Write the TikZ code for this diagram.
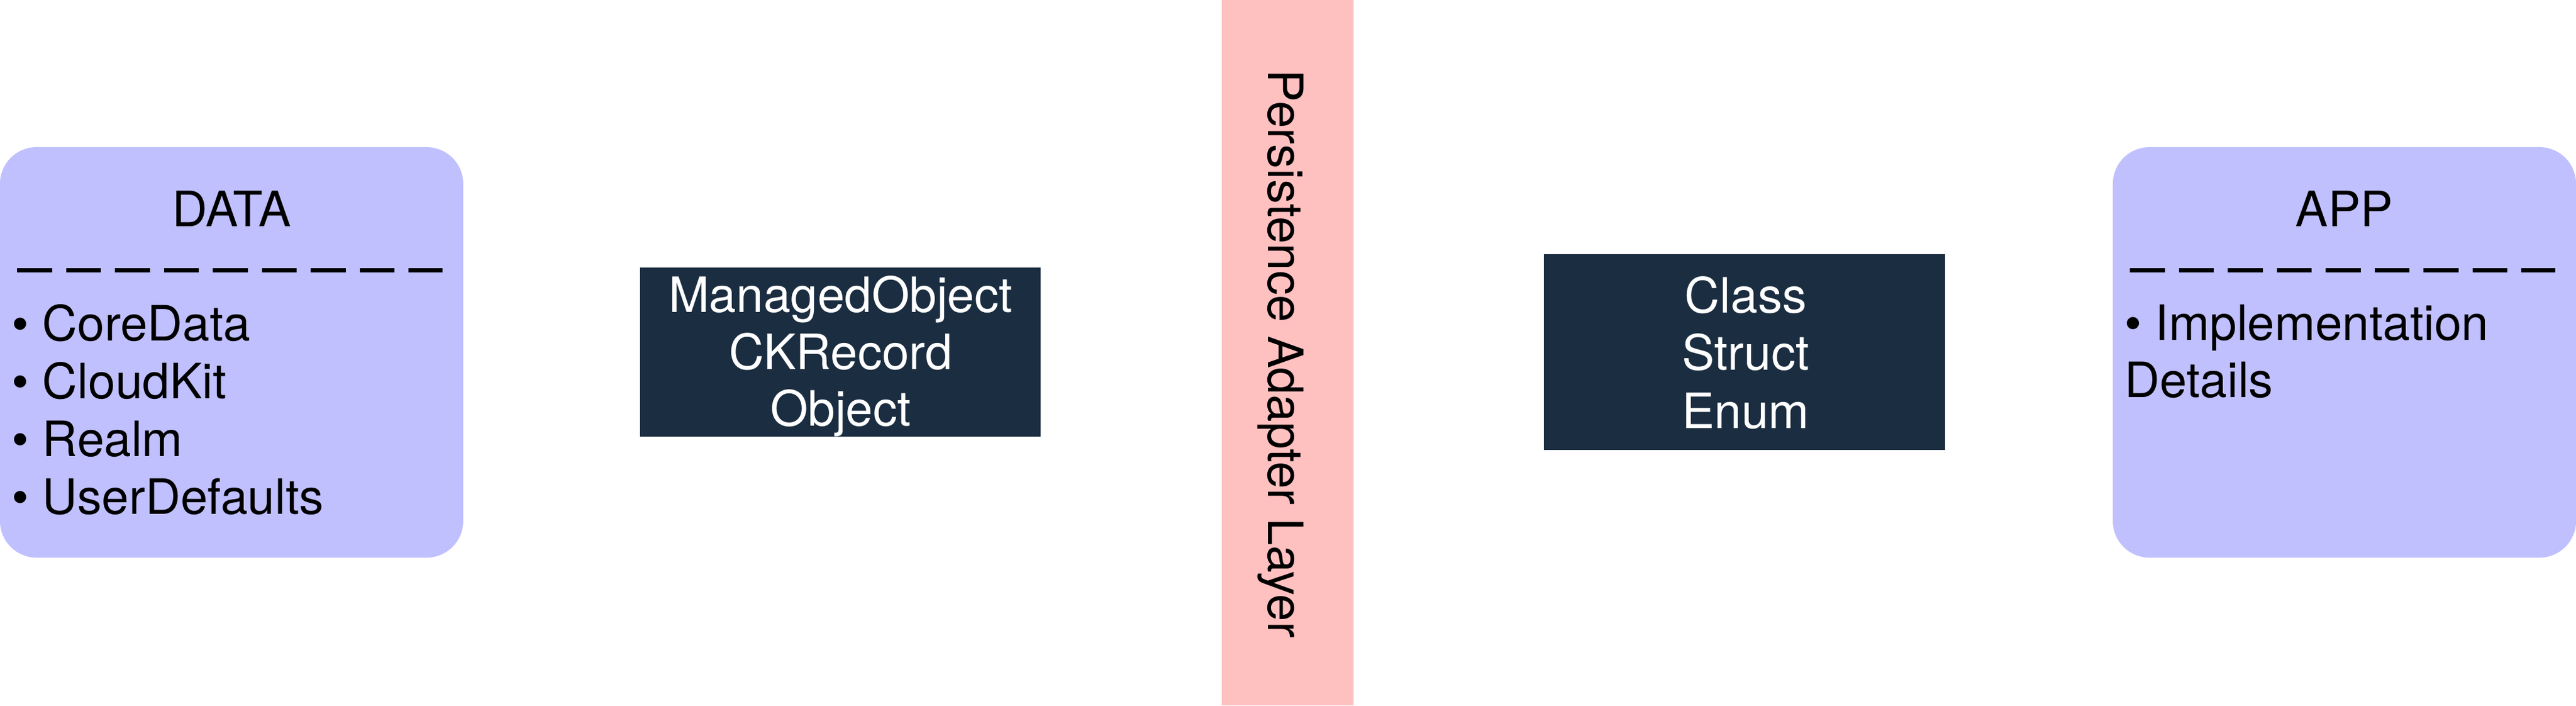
\documentclass[tikz,border=0pt]{standalone}
\usepackage{fontspec}
\setmainfont{TeX Gyre Heros}
\definecolor{lavande}{HTML}{C0C0FF}
\definecolor{rose}{HTML}{FFC0C0}
\definecolor{marine}{HTML}{1B2D40}
\begin{document}
\begin{tikzpicture}
		\tikzstyle{couche} = [fill=lavande,rounded corners=0.6cm,minimum width=7.62cm,minimum height=6.75cm,inner sep=0pt];
		\tikzstyle{modele} = [fill=marine,inner sep=0pt];
		\tikzstyle{bande} = [fill=rose,minimum width=2.17cm,minimum height=11.6cm,inner sep=0pt];
		\tikzstyle{texte} = [inner sep=0pt,font=\fontsize{22.8}{27}\selectfont];
		\tikzstyle{blanc} = [texte,white];
		\tikzstyle{tirets} = [line width=0.07cm,dash pattern=on 0.575cm off 0.23cm];
		
		\useasboundingbox (0,0) rectangle (42.38,11.6);
		
		
		\node[couche] (data) at (3.81,5.805) {};
		\node[couche] (app) at (38.57,5.805) {};
		\node[modele,minimum width=6.59cm,minimum height=2.78cm] (stockage) at (13.825,5.81) {};
		\node[modele,minimum width=6.60cm,minimum height=3.22cm] (domaine) at (28.70,5.81) {};
		\node[bande] (adapter) at (21.185,5.8) {};
		
		
		\node[texte,anchor=base] (titre-data) at (3.81,7.87) {DATA};
		\node[texte,anchor=base] (titre-app) at (38.57,7.87) {APP};
		\foreach \x in {0.28,35.04}{
			\draw[tirets] (\x,7.15) -- ++(7.0,0);
		}
		
		
		\foreach \t [count=\i] in {CoreData,CloudKit,Realm,UserDefaults}{
			\node[texte,anchor=base west] (data-\i) at (0.19,{5.99-0.947*(\i-1)}) {• \t};
		}
		\node[texte,anchor=base west] (app-1) at (34.95,6.00) {• Implementation};
		\node[texte,anchor=base west] (app-2) at (34.95,5.06) {Details};
		
		
		\foreach \t/\y in {ManagedObject/6.46,CKRecord/5.52,Object/4.59}{
			\node[blanc,anchor=base] (s-\t) at (13.83,\y) {\t};
		}
		\foreach \t/\y in {Class/6.45,Struct/5.51,Enum/4.56}{
			\node[blanc,anchor=base] (d-\t) at (28.72,\y) {\t};
		}
		
		
		\node[texte,rotate=-90,anchor=base] (titre-adapter) at (20.86,5.78) {Persistence Adapter Layer};
		
		
	\end{tikzpicture}
\end{document}
